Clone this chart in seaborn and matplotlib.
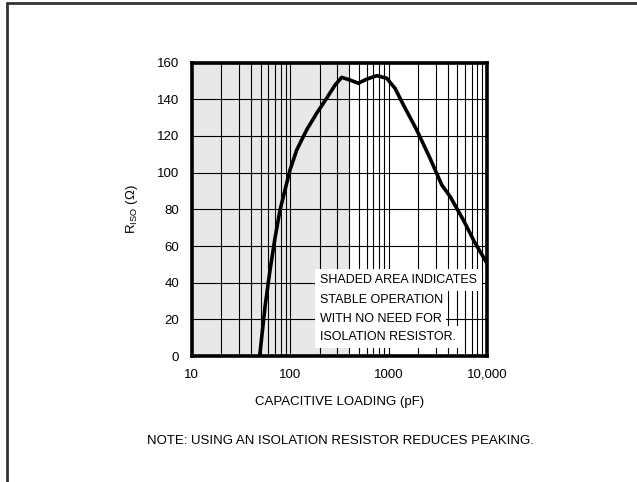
import matplotlib
matplotlib.use('Agg')
import matplotlib.pyplot as plt
from matplotlib.lines import Line2D
from matplotlib.ticker import FixedLocator, LogLocator, NullFormatter
import seaborn as sns

# Riso vs capacitive loading
cap_pf = [49, 55.6, 62.5, 70, 78.9, 85.3, 99.7, 116.7, 147, 186, 235, 286, 334,
          406, 493, 600, 759, 957, 1164, 1413, 1932, 2640, 3470, 4217, 5750, 7500, 9800, 10000]
riso = [0, 27, 47, 64, 79.6, 87, 101.5, 112.4, 123.3, 132.4, 140.6, 147.8, 152,
        150.5, 148.8, 151, 152.9, 151.5, 146, 137, 123.3, 107.8, 93.3, 87, 74.2, 62, 51.4, 50.5]

x_ticks = [10, 100, 1000, 10000]
x_labels = ['10', '100', '1000', '10,000']
y_ticks = [0, 20, 40, 60, 80, 100, 120, 140, 160]
shade_end = 400
note_lines = ['SHADED AREA INDICATES', 'STABLE OPERATION', 'WITH NO NEED FOR', 'ISOLATION RESISTOR.']

sns.set_style('white')
plt.rcParams['font.family'] = ['Liberation Sans', 'DejaVu Sans']
plt.rcParams['mathtext.fontset'] = 'custom'
plt.rcParams['mathtext.rm'] = 'Liberation Sans'
for k in ['text.color', 'axes.labelcolor', 'xtick.color', 'ytick.color']:
    plt.rcParams[k] = 'black'

fs = 9.5

fig = plt.figure(figsize=(6.37, 4.82), dpi=100)
ax = fig.add_axes([0.301, 0.2614, 0.4635, 0.6086])

ax.axvspan(10, shade_end, color='#e8e8e8', zorder=0, lw=0)
sns.lineplot(x=cap_pf, y=riso, ax=ax, color='black', lw=2.6, sort=False, estimator=None, zorder=4)

ax.set_xscale('log')
ax.set_xlim(10, 10000)
ax.set_ylim(0, 160)
ax.xaxis.set_major_locator(FixedLocator(x_ticks))
ax.set_xticklabels(x_labels)
ax.xaxis.set_minor_locator(LogLocator(base=10, subs=range(2, 10)))
ax.xaxis.set_minor_formatter(NullFormatter())
ax.set_yticks(y_ticks)
ax.set_axisbelow(True)
ax.grid(which='both', axis='both', color='black', lw=0.8)
ax.tick_params(which='both', length=0, labelsize=fs, pad=9)
for sp in ax.spines.values():
    sp.set_linewidth(2.6)
    sp.set_color('black')

ax.set_xlabel('CAPACITIVE LOADING (pF)', fontsize=fs, labelpad=11)
ax.set_ylabel(r'$\mathrm{R_{ISO}}$ (Ω)', fontsize=fs, labelpad=12)

# each line of the note sits on its own white patch
for line, yb in zip(note_lines, [0.249, 0.181, 0.116, 0.055]):
    ax.text(0.433, yb, line, transform=ax.transAxes, fontsize=fs - 0.5, va='baseline', ha='left',
            bbox=dict(boxstyle='square,pad=0.4', facecolor='white', edgecolor='none'), zorder=5)

fig.text(0.534, 0.085, 'NOTE: USING AN ISOLATION RESISTOR REDUCES PEAKING.',
         ha='center', va='center', fontsize=fs)

fig.add_artist(Line2D([7 / 637, 7 / 637], [0, 1 - 3 / 482], transform=fig.transFigure, color='#333333', lw=2))
fig.add_artist(Line2D([7 / 637, 1], [1 - 3 / 482, 1 - 3 / 482], transform=fig.transFigure, color='#333333', lw=2))

fig.savefig('out.png', dpi=100)
